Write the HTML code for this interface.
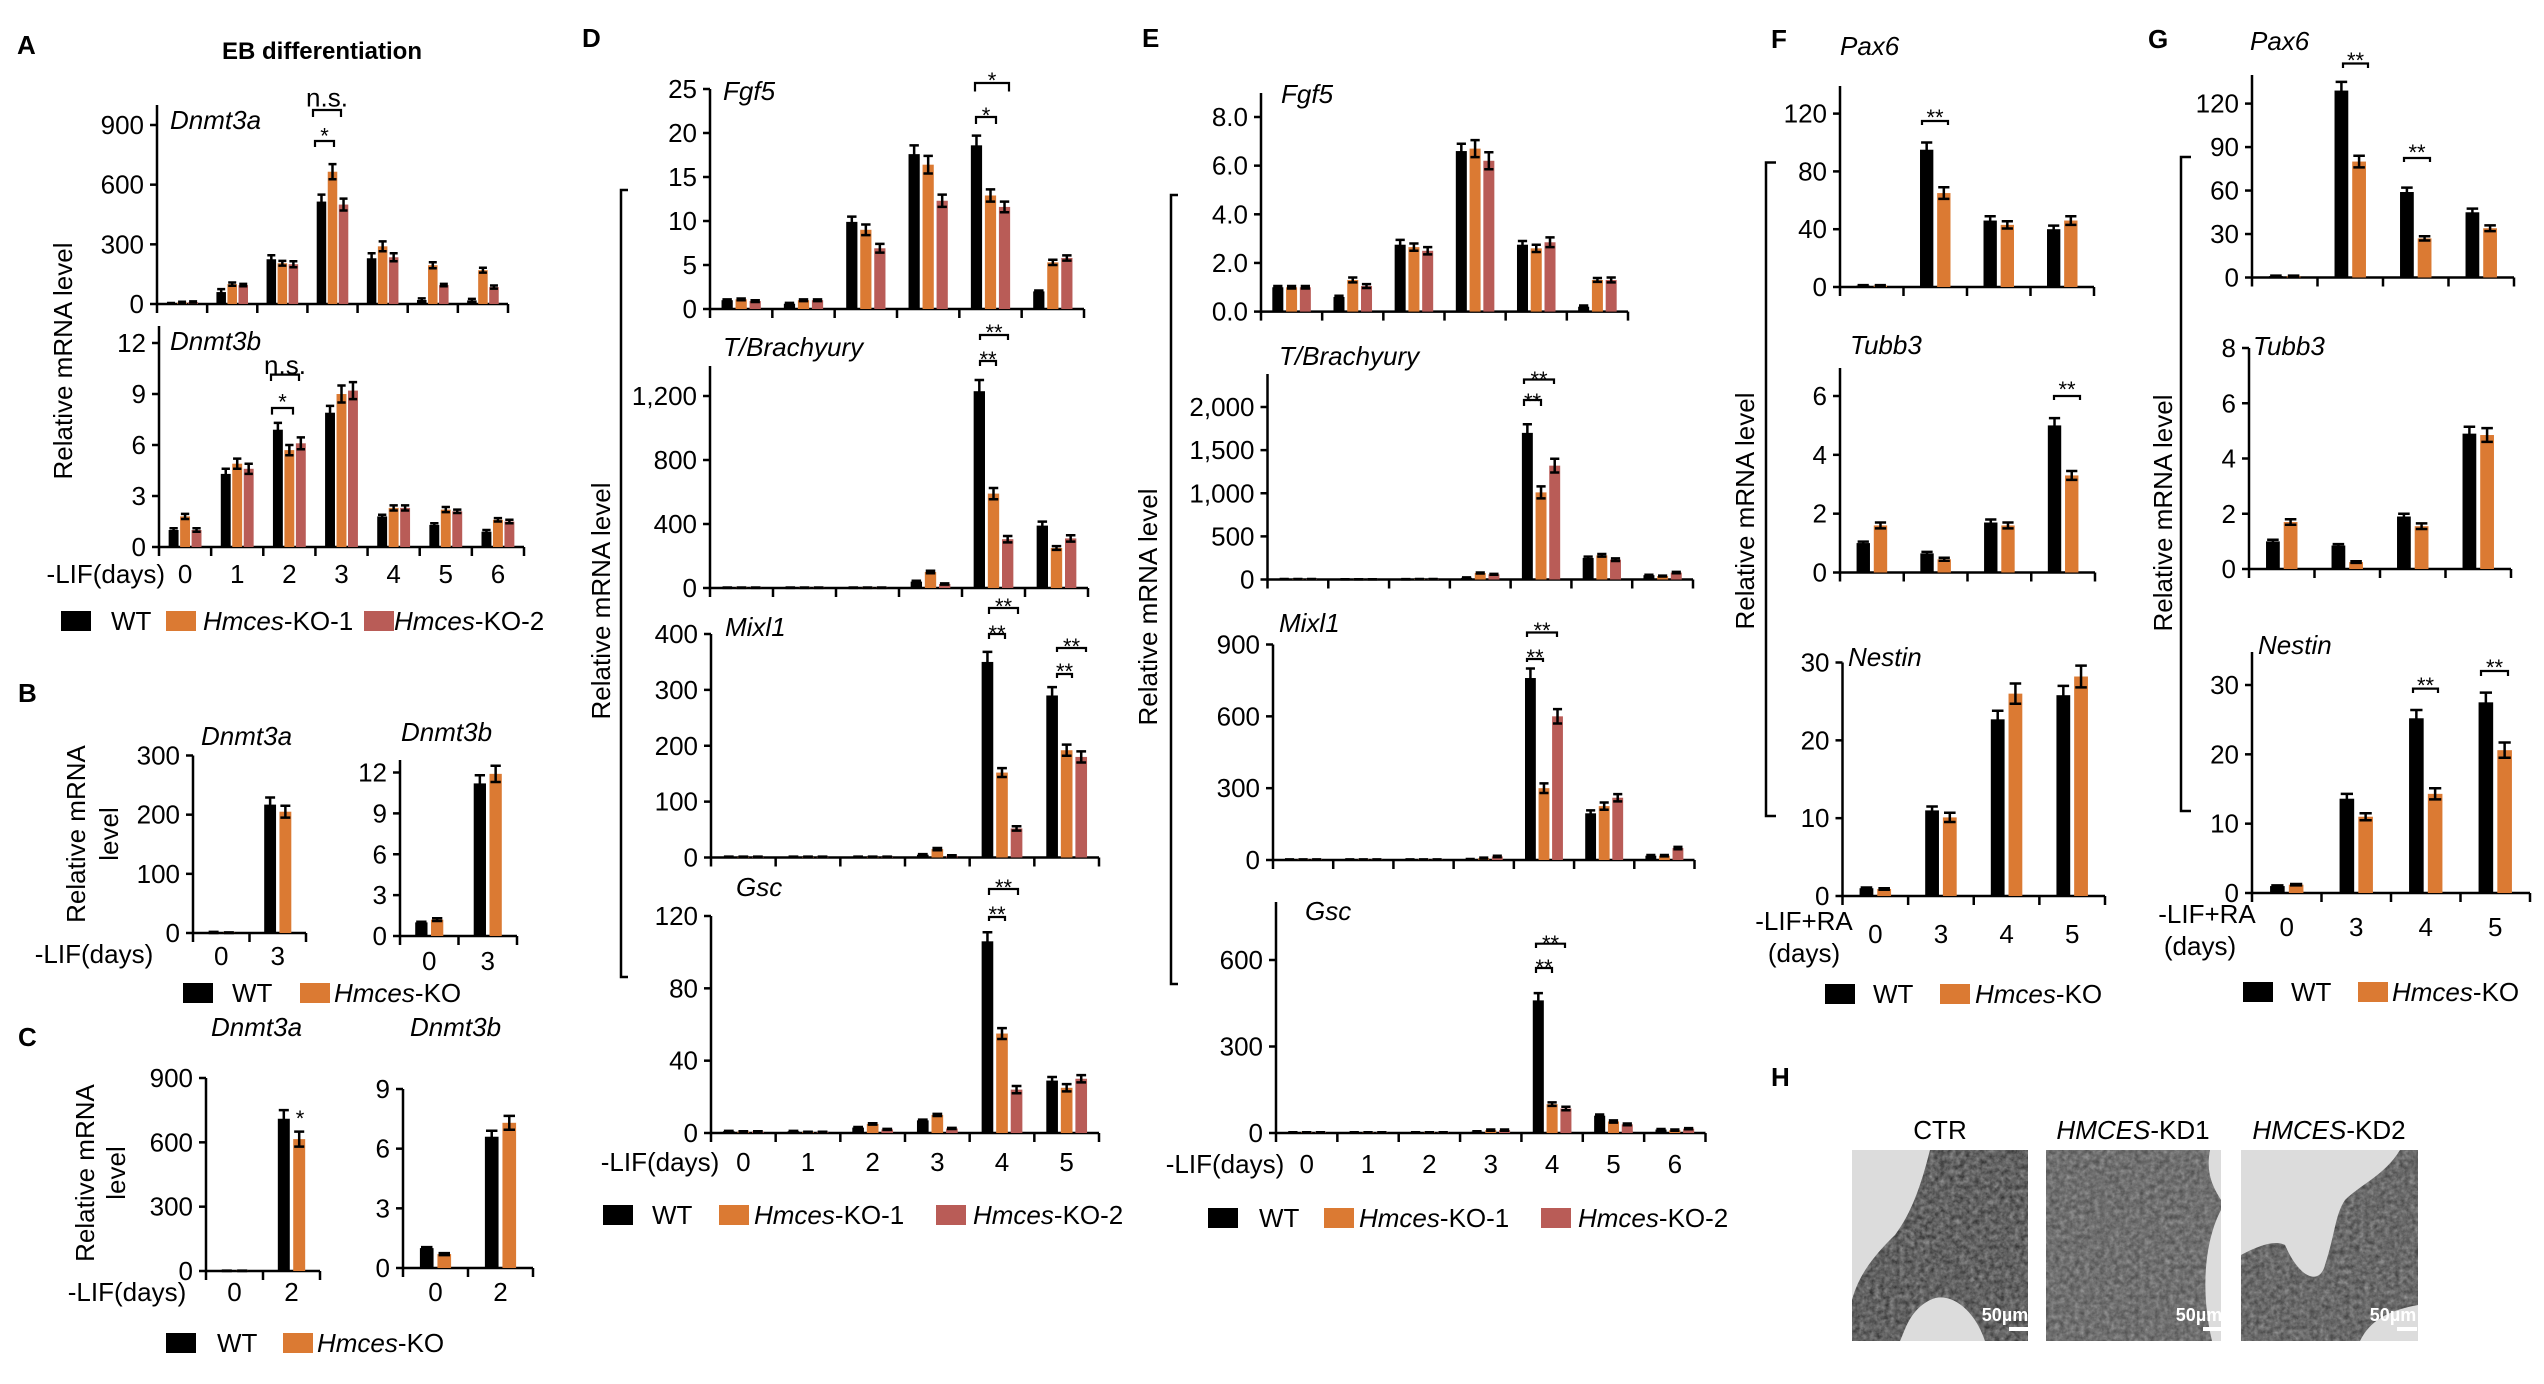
<!DOCTYPE html>
<html><head><meta charset="utf-8"><style>
html,body{margin:0;padding:0;background:#fff;}
svg{display:block;font-family:"Liberation Sans",Arial,sans-serif;}
</style></head><body>
<svg id="fig" xmlns="http://www.w3.org/2000/svg" width="2544" height="1384" viewBox="0 0 2544 1384">
<defs>
<filter id="tex" x="0" y="0" width="100%" height="100%">
<feTurbulence type="fractalNoise" baseFrequency="0.2" numOctaves="3" seed="3" result="n"/>
<feColorMatrix type="saturate" values="0" in="n" result="g"/>
<feComponentTransfer in="g" result="g2"><feFuncA type="table" tableValues="0 0.45"/></feComponentTransfer>
<feComposite in="g2" in2="SourceGraphic" operator="in" result="t"/>
<feMerge><feMergeNode in="SourceGraphic"/><feMergeNode in="t"/></feMerge>
</filter>
<clipPath id="c1"><rect x="1852" y="1150" width="176" height="191"/></clipPath>
<clipPath id="c2"><rect x="2046" y="1150" width="175" height="191"/></clipPath>
<clipPath id="c3"><rect x="2241" y="1150" width="177" height="191"/></clipPath>
</defs>
<g>
<g clip-path="url(#c1)">
<rect x="1852" y="1150" width="176" height="191" fill="#dcdcdc"/>
<path d="M1930 1150 L2028 1150 L2028 1341 L1985 1341 C1975 1310 1950 1290 1930 1300 C1910 1310 1905 1330 1900 1341 L1852 1341 L1852 1300 C1860 1270 1880 1250 1895 1235 C1910 1215 1920 1190 1930 1150 Z" fill="#222" filter="url(#tex)"/>
</g>
<g clip-path="url(#c2)">
<rect x="2046" y="1150" width="175" height="191" fill="#dcdcdc"/>
<path d="M2046 1150 L2210 1150 C2205 1175 2215 1190 2221 1200 L2221 1341 L2046 1341 Z" fill="#4a4a4a" filter="url(#tex)"/>
<path d="M2221 1210 C2205 1240 2200 1290 2212 1341 L2221 1341 Z" fill="#dcdcdc"/>
</g>
<g clip-path="url(#c3)">
<rect x="2241" y="1150" width="177" height="191" fill="#dcdcdc"/>
<path d="M2400 1150 L2418 1150 L2418 1305 C2390 1310 2370 1320 2360 1341 L2241 1341 L2241 1255 C2260 1245 2275 1240 2285 1245 C2300 1280 2320 1285 2325 1265 C2335 1235 2335 1215 2345 1200 C2360 1185 2385 1175 2400 1150 Z" fill="#3a3a3a" filter="url(#tex)"/>
</g>
</g>
<g id="root"></g>
</svg>
<script>
// ---------- data ----------
const daysA=['0','1','2','3','4','5','6'];
const dnmt3aWT=[3,60,225,515,230,20,18];
const dnmt3aKO1=[8,100,205,665,290,195,170];
const dnmt3aKO2=[10,95,200,500,235,95,85];
const dnmt3aWTe=[2,15,20,35,25,8,8];
const dnmt3aKO1e=[3,8,12,38,25,15,12];
const dnmt3aKO2e=[3,6,15,30,20,6,8];
const dnmt3bWT=[1,4.3,6.9,7.9,1.8,1.3,0.9];
const dnmt3bKO1=[1.8,4.9,5.7,9.0,2.3,2.2,1.6];
const dnmt3bKO2=[1,4.6,6.1,9.2,2.3,2.1,1.5];
const dnmt3bWTe=[0.1,0.3,0.4,0.4,0.1,0.1,0.1];
const dnmt3bKO1e=[0.15,0.3,0.3,0.5,0.15,0.15,0.1];
const dnmt3bKO2e=[0.1,0.3,0.35,0.5,0.15,0.1,0.1];
const daysB=['0','3'];
const bDnmt3aWT=[1,217], bDnmt3aKO=[0.5,205], bDnmt3aWTe=[1,12], bDnmt3aKOe=[0.5,10];
const bDnmt3bWT=[1,11.2], bDnmt3bKO=[1.2,11.9], bDnmt3bWTe=[0.05,0.6], bDnmt3bKOe=[0.1,0.6];
const daysC=['0','2'];
const cDnmt3aWT=[1,710], cDnmt3aKO=[1,615], cDnmt3aWTe=[1,40], cDnmt3aKOe=[1,35];
const cDnmt3bWT=[1,6.6], cDnmt3bKO=[0.7,7.3], cDnmt3bWTe=[0.05,0.3], cDnmt3bKOe=[0.05,0.35];
const daysD=['0','1','2','3','4','5'];
const dFgf5WT=[1,0.6,9.9,17.6,18.6,2], dFgf5KO1=[1.1,1,9,16.4,12.9,5.3], dFgf5KO2=[0.9,1,6.9,12.3,11.6,5.8];
const dFgf5WTe=[0.1,0.1,0.6,1,1.1,0.1], dFgf5KO1e=[0.1,0.1,0.6,1,0.7,0.3], dFgf5KO2e=[0.1,0.1,0.5,0.7,0.6,0.3];
const dTWT=[2,2,2,40,1230,390], dTKO1=[2,2,2,100,590,250], dTKO2=[2,2,2,25,305,310];
const dTWTe=[1,1,1,5,70,25], dTKO1e=[1,1,1,8,35,12], dTKO2e=[1,1,1,4,20,20];
const dMixWT=[1,1,1,5,350,290], dMixKO1=[1,1,1,15,152,192], dMixKO2=[1,1,1,3,52,180];
const dMixWTe=[0.5,0.5,0.5,1,18,15], dMixKO1e=[0.5,0.5,0.5,2,8,10], dMixKO2e=[0.5,0.5,0.5,1,4,10];
const dGscWT=[1,1,3,7,106,29], dGscKO1=[0.8,0.5,5,10,55,25], dGscKO2=[0.8,0.5,2,2.5,24,30];
const dGscWTe=[0.2,0.2,0.3,0.4,5,2], dGscKO1e=[0.2,0.2,0.4,0.6,3,2], dGscKO2e=[0.2,0.2,0.3,0.3,2,2];
const daysE=['0','1','2','3','4','5','6'];
const eFgf5WT=[1,0.6,2.75,6.6,2.75,0.2], eFgf5KO1=[1,1.3,2.65,6.7,2.6,1.3], eFgf5KO2=[1,1.05,2.5,6.2,2.85,1.3];
const eFgf5WTe=[0.05,0.05,0.2,0.3,0.15,0.05], eFgf5KO1e=[0.05,0.1,0.15,0.35,0.15,0.08], eFgf5KO2e=[0.05,0.08,0.15,0.35,0.2,0.1];
const eTWT=[5,2,3,20,1700,250,50], eTKO1=[5,2,5,75,1010,280,40], eTKO2=[5,2,5,60,1320,230,80];
const eTWTe=[1,1,1,4,100,15,5], eTKO1e=[1,1,1,6,70,15,5], eTKO2e=[1,1,1,5,80,15,8];
const eMixWT=[2,2,2,3,760,195,18], eMixKO1=[2,2,2,8,300,225,18], eMixKO2=[2,2,2,15,600,260,50];
const eMixWTe=[0.5,0.5,0.5,1,40,12,3], eMixKO1e=[0.5,0.5,0.5,2,20,15,3], eMixKO2e=[0.5,0.5,0.5,3,30,15,5];
const eGscWT=[2,2,2,5,460,60,12], eGscKO1=[2,2,2,10,100,40,10], eGscKO2=[2,2,2,10,85,30,15];
const eGscWTe=[0.5,0.5,0.5,1,25,4,2], eGscKO1e=[0.5,0.5,0.5,2,6,4,2], eGscKO2e=[0.5,0.5,0.5,2,6,3,2];
const daysF=['0','3','4','5'];
const fPaxWT=[1,95,46,40], fPaxKO=[1,65,43,46], fPaxWTe=[0.3,5,3,2.5], fPaxKOe=[0.3,4,2.5,3];
const fTubWT=[1,0.65,1.7,5], fTubKO=[1.6,0.45,1.6,3.3], fTubWTe=[0.05,0.05,0.1,0.25], fTubKOe=[0.1,0.05,0.1,0.15];
const fNesWT=[1,11,22.7,25.8], fNesKO=[0.9,10.1,26,28.2], fNesWTe=[0.1,0.5,1.1,1.2], fNesKOe=[0.1,0.6,1.3,1.4];
const gPaxWT=[1,129,59,45], gPaxKO=[1,80,27,34], gPaxWTe=[0.3,6,3,2.5], gPaxKOe=[0.3,4,1.5,2];
const gTubWT=[1,0.85,1.9,4.9], gTubKO=[1.7,0.25,1.55,4.85], gTubWTe=[0.06,0.05,0.1,0.25], gTubKOe=[0.1,0.03,0.1,0.25];
const gNesWT=[1,13.6,25.2,27.5], gNesKO=[1.2,11,14.3,20.6], gNesWTe=[0.1,0.7,1.2,1.4], gNesKOe=[0.1,0.5,0.8,1.1];
const ticks900=[0,300,600,900], ticks12=[0,3,6,9,12], ticks300=[0,100,200,300], ticks9=[0,3,6,9];
const ticks25=[0,5,10,15,20,25], ticksT=[0,400,800,1200], ticksTlab=['0','400','800','1,200'];
const ticks400=[0,100,200,300,400], ticks120=[0,40,80,120];
const ticks8=[0,2,4,6,8], ticks8lab=['0.0','2.0','4.0','6.0','8.0'];
const ticksET=[0,500,1000,1500,2000], ticksETlab=['0','500','1,000','1,500','2,000'];
const ticks600=[0,300,600], ticks6=[0,2,4,6], ticks30=[0,10,20,30], ticksG120=[0,30,60,90,120], ticksG8=[0,2,4,6,8];

// ---------- drawing ----------
const NS='http://www.w3.org/2000/svg';
const root=document.getElementById('root');
const C3=['#000000','#db7a33','#b95c57'];
function mk(tag,attrs,nm,parent){
  const el=document.createElementNS(NS,tag);
  for(const k in attrs) el.setAttribute(k,attrs[k]);
  
  
  (parent||root).appendChild(el);
  return el;
}
function txt(x,y,s,nm,o){
  o=o||{};
  const el=mk('text',{x:x,y:y,'font-size':o.fs||26,'text-anchor':o.a||'start','font-style':o.it?'italic':'normal','font-weight':o.b?'bold':'normal',fill:o.fill||'#000'},nm,o.p);
  if(o.rot) el.setAttribute('transform','rotate(-90 '+x+' '+y+')');
  if(o.html) el.innerHTML=s; else el.textContent=s;
  return el;
}
function ln(x1,y1,x2,y2,nm,w,p){return mk('line',{x1:x1,y1:y1,x2:x2,y2:y2,stroke:'#000','stroke-width':w||2.5},nm,p);}

function panel(c){
  const g=mk('g',{},c.name);
  const unit=(c.base-c.refY)/c.refV;
  const y=v=>c.base-v*unit;
  const n=c.cats.length;
  const cw=(c.x1-c.x0)/n;
  ln(c.x0,c.top,c.x0,c.base+1,c.name+'-y-axis',2.5,g);
  ln(c.x0,c.base,c.x1,c.base,c.name+'-x-axis',2.5,g);
  c.ticks.forEach((t,i)=>{
    ln(c.x0-7,y(t),c.x0,y(t),c.name+'-y-tick',2.5,g);
    txt(c.x0-13,y(t)+9,c.tlab?c.tlab[i]:String(t),c.name+'-y-tick-label',{a:'end',p:g});
  });
  for(let i=0;i<=n;i++) ln(c.x0+i*cw,c.base,c.x0+i*cw,c.base+9,c.name+'-x-tick',2.5,g);
  if(c.catY) c.cats.forEach((s,i)=>txt(c.x0+(i+0.5)*cw,c.catY+9,s,c.name+'-x-label',{a:'middle',p:g}));
  const ns=c.ser.length;
  const sp=ns===3?c.sp||0.225:0.135;
  const bw=(ns===3?(c.bw||0.18):0.21)*cw;
  c.ser.forEach((arr,si)=>{
    arr.forEach((v,i)=>{
      const cx=c.x0+(i+0.5)*cw+(si-(ns-1)/2)*sp*2*(ns===3?0.5:1)*cw;
      mk('rect',{x:cx-bw/2,y:y(v),width:bw,height:Math.max(0,c.base-y(v)),fill:C3[si]},c.name+'-bar-'+si+'-'+i,g);
      const e=c.err[si][i];
      const cap=bw*0.42;
      mk('path',{d:'M'+(cx-cap)+' '+y(v+e)+'H'+(cx+cap)+'M'+cx+' '+y(v+e)+'V'+y(v-e)+'M'+(cx-cap)+' '+y(v-e)+'H'+(cx+cap),stroke:'#000','stroke-width':2.5,fill:'none'},c.name+'-error-bar',g);
    });
  });
  if(c.gene) txt(c.gx,c.gy+9,c.gene,c.name+'-gene-label',{it:true,p:g});
}
function sig(x1,x2,yt,yl,s,ly,nm){
  mk('path',{d:'M'+x1+' '+yl+'V'+yt+'H'+x2+'V'+yl,stroke:'#000','stroke-width':2.2,fill:'none'},nm+'-bracket');
  txt((x1+x2)/2,ly+(s==='n.s.'?9:14),s,nm+'-label',{a:'middle',fs:s==='n.s.'?26:22});
}
function bigBracket(x,t,b,tx,nm){mk('path',{d:'M'+tx+' '+t+'H'+x+'V'+b+'H'+tx,stroke:'#000','stroke-width':2.5,fill:'none'},nm);}
function legend(items,y,nm){
  items.forEach((it,i)=>{
    mk('rect',{x:it[0],y:y-10,width:30,height:20,fill:C3[it[3]]},nm+'-swatch-'+i);
    txt(it[1],y+9,it[2],nm+'-text-'+i,{html:true});
  });
}

// Panel A
txt(17,54,'A','panel-a-letter',{b:true});
txt(322,59,'EB differentiation','panel-a-title',{b:true,fs:24,a:'middle'});
panel({name:'a-dnmt3a',x0:157,x1:508,base:304,refV:900,refY:125,top:105,cats:daysA,ticks:ticks900,ser:[dnmt3aWT,dnmt3aKO1,dnmt3aKO2],err:[dnmt3aWTe,dnmt3aKO1e,dnmt3aKO2e],gene:'Dnmt3a',gx:170,gy:120,bw:0.19,sp:0.22});
panel({name:'a-dnmt3b',x0:159,x1:524,base:547,refV:12,refY:343,top:326,cats:daysA,catY:574,ticks:ticks12,ser:[dnmt3bWT,dnmt3bKO1,dnmt3bKO2],err:[dnmt3bWTe,dnmt3bKO1e,dnmt3bKO2e],gene:'Dnmt3b',gx:170,gy:341,bw:0.19,sp:0.22});
txt(165,583,'-LIF(days)','a-x-title',{a:'end'});
txt(72,361,'Relative mRNA level','a-y-title',{a:'middle',rot:true});
sig(313,341,110,117,'n.s.',97.6,'a-sig-ns');
sig(315,334,141,147,'*',129.6,'a-sig-star');
sig(271,299,374.6,381,'n.s.',365,'b-sig-ns2');
sig(272,293,408,414.6,'*',395.6,'a-sig-star2');
legend([[61,111,'WT',0],[166,203,'<tspan font-style="italic">Hmces</tspan>-KO-1',1],[364,394,'<tspan font-style="italic">Hmces</tspan>-KO-2',2]],621,'a-legend');

// Panel B
txt(18,702,'B','panel-b-letter',{b:true});
panel({name:'b-dnmt3a',x0:193,x1:306,base:933,refV:300,refY:755.5,top:755.5,cats:daysB,catY:956,ticks:ticks300,ser:[bDnmt3aWT,bDnmt3aKO],err:[bDnmt3aWTe,bDnmt3aKOe],gene:'Dnmt3a',gx:201,gy:736});
panel({name:'b-dnmt3b',x0:400,x1:517,base:936,refV:12,refY:772.5,top:760,cats:daysB,catY:961,ticks:ticks12,ser:[bDnmt3bWT,bDnmt3bKO],err:[bDnmt3bWTe,bDnmt3bKOe],gene:'Dnmt3b',gx:401,gy:732});
txt(94,963,'-LIF(days)','b-x-title',{a:'middle'});
txt(85,834,'Relative mRNA','b-y-title-1',{a:'middle',rot:true});
txt(118,834,'level','b-y-title-2',{a:'middle',rot:true});
legend([[183,232,'WT',0],[300,334,'<tspan font-style="italic">Hmces</tspan>-KO',1]],993,'b-legend');

// Panel C
txt(18,1046,'C','panel-c-letter',{b:true});
panel({name:'c-dnmt3a',x0:206,x1:320,base:1271,refV:900,refY:1078,top:1078,cats:daysC,catY:1292,ticks:ticks900,ser:[cDnmt3aWT,cDnmt3aKO],err:[cDnmt3aWTe,cDnmt3aKOe],gene:'Dnmt3a',gx:211,gy:1027});
panel({name:'c-dnmt3b',x0:403,x1:533,base:1268,refV:9,refY:1089,top:1089,cats:daysC,catY:1292,ticks:ticks9,ser:[cDnmt3bWT,cDnmt3bKO],err:[cDnmt3bWTe,cDnmt3bKOe],gene:'Dnmt3b',gx:410,gy:1027});
txt(300,1126,'*','c-sig-star',{a:'middle',fs:22});
txt(127,1301,'-LIF(days)','c-x-title',{a:'middle'});
txt(94,1173,'Relative mRNA','c-y-title-1',{a:'middle',rot:true});
txt(125,1173,'level','c-y-title-2',{a:'middle',rot:true});
legend([[166,217,'WT',0],[283,317,'<tspan font-style="italic">Hmces</tspan>-KO',1]],1343,'c-legend');

// Panel D
txt(582,47,'D','panel-d-letter',{b:true});
panel({name:'d-fgf5',x0:710,x1:1084,base:309,refV:25,refY:89,top:89,cats:daysD,ticks:ticks25,ser:[dFgf5WT,dFgf5KO1,dFgf5KO2],err:[dFgf5WTe,dFgf5KO1e,dFgf5KO2e],gene:'Fgf5',gx:723,gy:91});
panel({name:'d-brachyury',x0:710,x1:1088,base:588,refV:1200,refY:396,top:366,cats:daysD,ticks:ticksT,tlab:ticksTlab,ser:[dTWT,dTKO1,dTKO2],err:[dTWTe,dTKO1e,dTKO2e],gene:'T/Brachyury',gx:723,gy:347});
panel({name:'d-mixl1',x0:711,x1:1099,base:857.5,refV:400,refY:634,top:634,cats:daysD,ticks:ticks400,ser:[dMixWT,dMixKO1,dMixKO2],err:[dMixWTe,dMixKO1e,dMixKO2e],gene:'Mixl1',gx:725,gy:627});
panel({name:'d-gsc',x0:711,x1:1099,base:1133,refV:120,refY:916,top:916,cats:daysD,catY:1162,ticks:ticks120,ser:[dGscWT,dGscKO1,dGscKO2],err:[dGscWTe,dGscKO1e,dGscKO2e],gene:'Gsc',gx:736,gy:887});
sig(975,1009,83,91.5,'*',74,'d-fgf5-sig1'); sig(976,996,117,124,'*',109,'d-fgf5-sig2');
sig(980,1008,335,340,'**',326,'d-t-sig1'); sig(980,996,361,366,'**',353,'d-t-sig2');
sig(989,1018,608,614,'**',600,'d-mix-sig1'); sig(989,1005,634,639,'**',627,'d-mix-sig2');
sig(1057,1086,648,652,'**',640,'d-mix-sig3'); sig(1057,1072,674,678,'**',665,'d-mix-sig4');
sig(989,1018,889,895,'**',881,'d-gsc-sig1'); sig(989,1005,917,921,'**',908,'d-gsc-sig2');
bigBracket(621,190,977,628,'d-y-bracket');
txt(610,601,'Relative mRNA level','d-y-title',{a:'middle',rot:true});
txt(660,1171,'-LIF(days)','d-x-title',{a:'middle'});
legend([[603,652,'WT',0],[719,754,'<tspan font-style="italic">Hmces</tspan>-KO-1',1],[936,973,'<tspan font-style="italic">Hmces</tspan>-KO-2',2]],1215,'d-legend');

// Panel E
txt(1142,47,'E','panel-e-letter',{b:true});
panel({name:'e-fgf5',x0:1261,x1:1628,base:311.6,refV:8,refY:117,top:93,cats:daysD,ticks:ticks8,tlab:ticks8lab,ser:[eFgf5WT,eFgf5KO1,eFgf5KO2],err:[eFgf5WTe,eFgf5KO1e,eFgf5KO2e],gene:'Fgf5',gx:1281,gy:94});
panel({name:'e-brachyury',x0:1267.5,x1:1693,base:579.5,refV:2000,refY:407,top:374,cats:daysE,ticks:ticksET,tlab:ticksETlab,ser:[eTWT,eTKO1,eTKO2],err:[eTWTe,eTKO1e,eTKO2e],gene:'T/Brachyury',gx:1279,gy:356});
panel({name:'e-mixl1',x0:1273,x1:1694.5,base:860,refV:900,refY:644.5,top:644.5,cats:daysE,ticks:ticks900,ser:[eMixWT,eMixKO1,eMixKO2],err:[eMixWTe,eMixKO1e,eMixKO2e],gene:'Mixl1',gx:1279,gy:623});
panel({name:'e-gsc',x0:1276,x1:1705.5,base:1133,refV:600,refY:960,top:902,cats:daysE,catY:1164,ticks:ticks600,ser:[eGscWT,eGscKO1,eGscKO2],err:[eGscWTe,eGscKO1e,eGscKO2e],gene:'Gsc',gx:1305,gy:911});
sig(1524,1554,379.5,384,'**',373,'e-t-sig1'); sig(1524,1541,400,406,'**',395,'e-t-sig2');
sig(1527,1557,632.5,637,'**',624,'e-mix-sig1'); sig(1527,1543,659,662,'**',651,'e-mix-sig2');
sig(1536,1565,943.7,948,'**',937,'e-gsc-sig1'); sig(1536,1552,968,973,'**',961,'e-gsc-sig2');
bigBracket(1171,195,984,1178,'e-y-bracket');
txt(1157,607,'Relative mRNA level','e-y-title',{a:'middle',rot:true});
txt(1225,1173,'-LIF(days)','e-x-title',{a:'middle'});
legend([[1208,1259,'WT',0],[1324,1359,'<tspan font-style="italic">Hmces</tspan>-KO-1',1],[1541,1578,'<tspan font-style="italic">Hmces</tspan>-KO-2',2]],1218,'e-legend');

// Panel F
txt(1771,48,'F','panel-f-letter',{b:true});
panel({name:'f-pax6',x0:1840,x1:2094,base:287,refV:120,refY:113.6,top:86,cats:daysF,ticks:ticks120,ser:[fPaxWT,fPaxKO],err:[fPaxWTe,fPaxKOe],gene:'Pax6',gx:1840,gy:46});
panel({name:'f-tubb3',x0:1840,x1:2095,base:572.5,refV:6,refY:396,top:368,cats:daysF,ticks:ticks6,ser:[fTubWT,fTubKO],err:[fTubWTe,fTubKOe],gene:'Tubb3',gx:1850,gy:345});
panel({name:'f-nestin',x0:1842.5,x1:2105,base:896,refV:30,refY:662.5,top:662.5,cats:daysF,catY:934,ticks:ticks30,ser:[fNesWT,fNesKO],err:[fNesWTe,fNesKOe],gene:'Nestin',gx:1848,gy:657});
sig(1922,1948,121,125,'**',111,'f-pax6-sig'); sig(2054,2080,396,400,'**',383,'f-tubb3-sig');
bigBracket(1766,162.5,816,1776,'f-y-bracket');
txt(1754,511,'Relative mRNA level','f-y-title',{a:'middle',rot:true});
txt(1804,930,'-LIF+RA','f-x-title-1',{a:'middle'});
txt(1804,962,'(days)','f-x-title-2',{a:'middle'});
legend([[1825,1873,'WT',0],[1940,1975,'<tspan font-style="italic">Hmces</tspan>-KO',1]],994,'f-legend');

// Panel G
txt(2148,48,'G','panel-g-letter',{b:true});
panel({name:'g-pax6',x0:2252,x1:2514,base:277.5,refV:120,refY:103.6,top:75,cats:daysF,ticks:ticksG120,ser:[gPaxWT,gPaxKO],err:[gPaxWTe,gPaxKOe],gene:'Pax6',gx:2250,gy:41});
panel({name:'g-tubb3',x0:2249,x1:2511,base:569,refV:8,refY:348,top:348,cats:daysF,ticks:ticksG8,ser:[gTubWT,gTubKO],err:[gTubWTe,gTubKOe],gene:'Tubb3',gx:2253,gy:346});
panel({name:'g-nestin',x0:2252,x1:2530,base:893,refV:30,refY:685,top:652,cats:daysF,catY:927,ticks:ticks30,ser:[gNesWT,gNesKO],err:[gNesWTe,gNesKOe],gene:'Nestin',gx:2258,gy:645});
sig(2343,2368,63.5,68,'**',54,'g-pax6-sig1'); sig(2404,2430,158,162,'**',146,'g-pax6-sig2');
sig(2413,2438,688.6,693,'**',679,'g-nes-sig1'); sig(2481,2508,671,676,'**',661,'g-nes-sig2');
bigBracket(2181,157,811,2191,'g-y-bracket');
txt(2172,513,'Relative mRNA level','g-y-title',{a:'middle',rot:true});
txt(2207,923,'-LIF+RA','g-x-title-1',{a:'middle'});
txt(2200,955,'(days)','g-x-title-2',{a:'middle'});
legend([[2243,2291,'WT',0],[2358,2392,'<tspan font-style="italic">Hmces</tspan>-KO',1]],992,'g-legend');

// Panel H labels
txt(1771,1086,'H','panel-h-letter',{b:true});
txt(1940,1139,'CTR','h-label-ctr',{a:'middle'});
txt(2133,1139,'<tspan font-style="italic">HMCES</tspan>-KD1','h-label-kd1',{a:'middle',html:true});
txt(2329,1139,'<tspan font-style="italic">HMCES</tspan>-KD2','h-label-kd2',{a:'middle',html:true});
[[2005,2018],[2199,2212],[2393,2406]].forEach((p,i)=>{
  txt(p[0],1321,'50µm','h-scale-text-'+i,{a:'middle',fs:18,b:true,fill:'#fff'});
  mk('rect',{x:p[1]-9,y:1327,width:20,height:4,fill:'#fff'},'h-scale-bar-'+i);
});
</script>
</body></html>
